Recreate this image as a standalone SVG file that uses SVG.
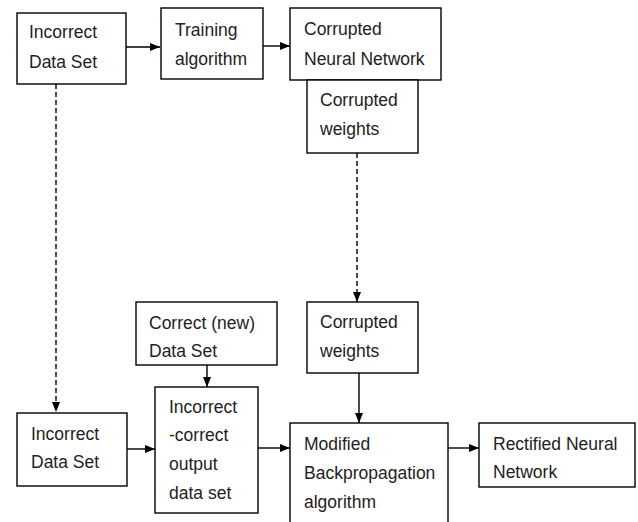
<svg xmlns="http://www.w3.org/2000/svg" width="638" height="522" viewBox="0 0 638 522">
<defs>
<marker id="ah" markerWidth="10" markerHeight="8" refX="10" refY="4" orient="auto" markerUnits="userSpaceOnUse">
<path d="M0,0 L10,4 L0,8 Z" fill="#000"/>
</marker>
<style>
.box{fill:#fff;stroke:#000;stroke-width:1.4}
.t{font-family:"Liberation Sans",Arial,sans-serif;font-size:17.5px;fill:#222}
.c{fill:none;stroke:#000;stroke-width:1.4;marker-end:url(#ah)}
.d{stroke-dasharray:5,3}
</style>
</defs>
<rect width="638" height="522" fill="#fff"/>
<g id="connectors">
<path class="c" d="M126,47 H160"/>
<path class="c" d="M263,46 H290"/>
<path class="c d" d="M56,84 V412"/>
<path class="c d" d="M357,153 V302"/>
<path class="c" d="M207,365 V387"/>
<path class="c" d="M127,449 H155"/>
<path class="c" d="M258,448 H290"/>
<path class="c" d="M359,373 V423"/>
<path class="c" d="M448,448 H479"/>
</g>
<g id="incorrect-top">
<rect class="box" x="17" y="13" width="109" height="71"/>
<text class="t" x="29" y="38">Incorrect</text>
<text class="t" x="29" y="68">Data Set</text>
</g>
<g id="training">
<rect class="box" x="161" y="8" width="102" height="71"/>
<text class="t" x="175" y="36">Training</text>
<text class="t" x="175" y="65">algorithm</text>
</g>
<g id="corrupted-nn">
<rect class="box" x="290" y="8" width="151" height="72"/>
<text class="t" x="304" y="35">Corrupted</text>
<text class="t" x="304" y="65">Neural Network</text>
</g>
<g id="weights-top">
<rect class="box" x="307" y="80" width="111" height="73"/>
<text class="t" x="320" y="106">Corrupted</text>
<text class="t" x="320" y="135">weights</text>
</g>
<g id="correct-new">
<rect class="box" x="136" y="302" width="141" height="63"/>
<text class="t" x="149" y="329">Correct (new)</text>
<text class="t" x="149" y="357">Data Set</text>
</g>
<g id="weights-bottom">
<rect class="box" x="307" y="302" width="111" height="71"/>
<text class="t" x="320" y="328">Corrupted</text>
<text class="t" x="320" y="357">weights</text>
</g>
<g id="incorrect-bottom">
<rect class="box" x="17" y="413" width="110" height="73"/>
<text class="t" x="31" y="440">Incorrect</text>
<text class="t" x="31" y="468">Data Set</text>
</g>
<g id="incorrect-correct">
<rect class="box" x="155" y="387" width="103" height="126"/>
<text class="t" x="169" y="413">Incorrect</text>
<text class="t" x="169" y="441">-correct</text>
<text class="t" x="169" y="470">output</text>
<text class="t" x="169" y="499">data set</text>
</g>
<g id="modified-bp">
<rect class="box" x="290" y="423" width="158" height="110"/>
<text class="t" x="304" y="450">Modified</text>
<text class="t" x="304" y="479">Backpropagation</text>
<text class="t" x="304" y="508">algorithm</text>
</g>
<g id="rectified">
<rect class="box" x="479" y="423" width="156" height="64"/>
<text class="t" x="493" y="450">Rectified Neural</text>
<text class="t" x="493" y="478">Network</text>
</g>
</svg>
